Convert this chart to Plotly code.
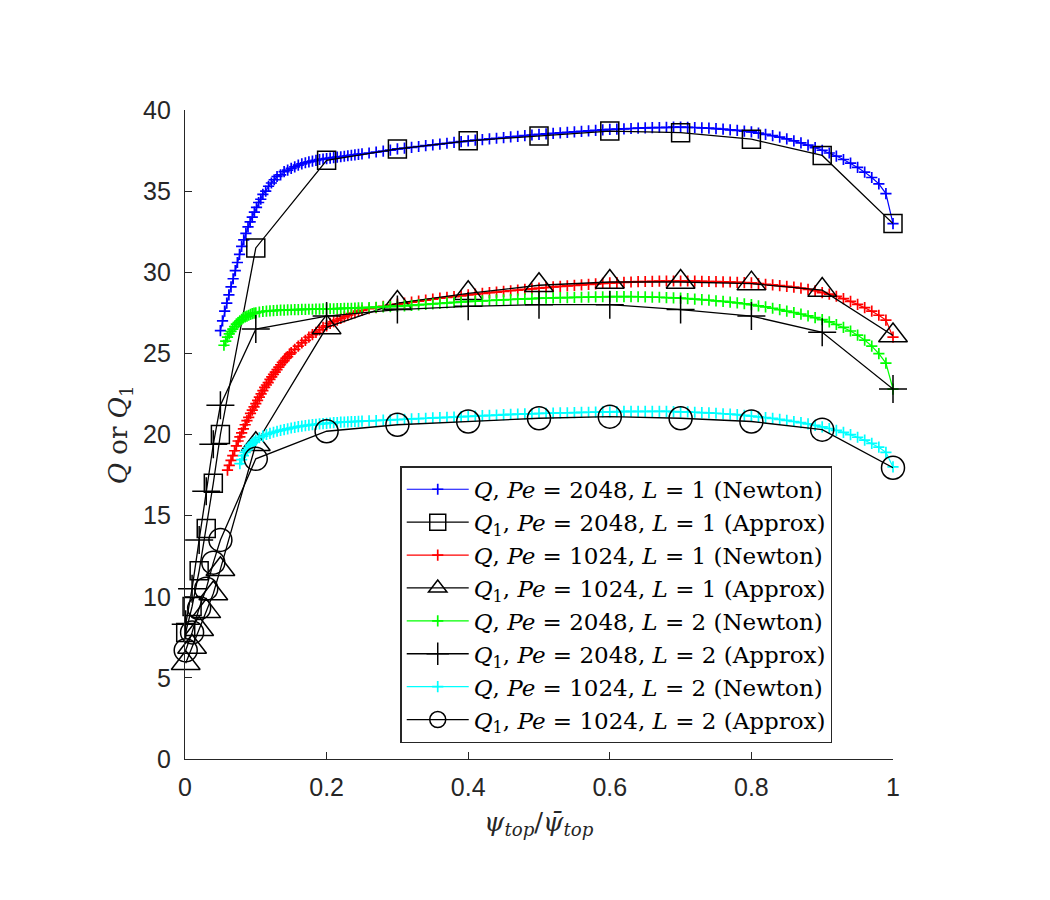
import plotly.graph_objects as go

# ---------------- data ----------------
# shared uniform grid used by the right-hand part of the Newton curves
x_grid = [0.26, 0.27, 0.28, 0.29, 0.30, 0.31, 0.32, 0.33, 0.34, 0.35,
          0.36, 0.37, 0.38, 0.39, 0.40, 0.41, 0.42, 0.43, 0.44, 0.45,
          0.46, 0.47, 0.48, 0.49, 0.50, 0.51, 0.52, 0.53, 0.54, 0.55,
          0.56, 0.57, 0.58, 0.59, 0.60, 0.61, 0.62, 0.63, 0.64, 0.65,
          0.66, 0.67, 0.68, 0.69, 0.70, 0.71, 0.72, 0.73, 0.74, 0.75,
          0.76, 0.77, 0.78, 0.79, 0.80, 0.81, 0.82, 0.83, 0.84, 0.85,
          0.86, 0.87, 0.88, 0.89, 0.90, 0.91, 0.92, 0.93, 0.94, 0.95,
          0.96, 0.97, 0.98, 0.99, 1.00]

# Q, Pe=2048, L=1 (Newton) -- blue
blue_x_left = [0.050, 0.053, 0.056, 0.059, 0.062, 0.065, 0.068, 0.071, 0.074, 0.077,
               0.080, 0.083, 0.086, 0.089, 0.092, 0.095, 0.098, 0.101, 0.104, 0.107,
               0.110, 0.114, 0.118, 0.122, 0.126, 0.130, 0.135, 0.140, 0.145, 0.150,
               0.155, 0.160, 0.165, 0.170, 0.175, 0.180, 0.185, 0.190, 0.195, 0.200,
               0.205, 0.210, 0.215, 0.220, 0.225, 0.230, 0.235, 0.240, 0.245, 0.250]
blue_y_left = [26.4, 27.0, 27.6, 28.1, 28.6, 29.1, 29.6, 30.1, 30.6, 31.1,
               31.6, 32.0, 32.4, 32.8, 33.1, 33.4, 33.7, 34.0, 34.3, 34.5,
               34.8, 35.0, 35.3, 35.5, 35.7, 35.9, 36.0, 36.2, 36.3, 36.4,
               36.5, 36.6, 36.68, 36.75, 36.8, 36.85, 36.9, 36.95, 36.98, 37.0,
               37.03, 37.06, 37.09, 37.12, 37.15, 37.18, 37.21, 37.24, 37.27, 37.3]
blue_y_grid = [37.35, 37.41, 37.47, 37.53, 37.60, 37.65, 37.70, 37.75, 37.80, 37.85,
               37.90, 37.95, 38.00, 38.05, 38.10, 38.14, 38.18, 38.22, 38.26, 38.30,
               38.34, 38.38, 38.42, 38.46, 38.50, 38.53, 38.56, 38.59, 38.62, 38.65,
               38.68, 38.71, 38.74, 38.77, 38.80, 38.82, 38.84, 38.86, 38.88, 38.90,
               38.91, 38.92, 38.93, 38.94, 38.94, 38.93, 38.92, 38.90, 38.88, 38.85,
               38.82, 38.78, 38.74, 38.70, 38.65, 38.58, 38.50, 38.42, 38.33, 38.22,
               38.10, 37.97, 37.83, 37.68, 37.52, 37.35, 37.16, 36.95, 36.72, 36.46,
               36.17, 35.84, 35.45, 34.85, 33.0]

# Q, Pe=1024, L=1 (Newton) -- red
red_x_left = [0.0600, 0.0625, 0.0650, 0.0675, 0.0700, 0.0725, 0.0750, 0.0775, 0.0800, 0.0825,
              0.0850, 0.0875, 0.0900, 0.0925, 0.0950, 0.0975, 0.1000, 0.1025, 0.1050, 0.1075,
              0.1100, 0.1125, 0.1150, 0.1175, 0.1200, 0.1225, 0.1250, 0.1275, 0.1300, 0.1325,
              0.1350, 0.1375, 0.1400, 0.1425, 0.1450, 0.1475, 0.1500, 0.155, 0.160, 0.165,
              0.170, 0.175, 0.180, 0.185, 0.190, 0.195, 0.200, 0.205, 0.210, 0.215,
              0.220, 0.225, 0.230, 0.235, 0.240, 0.245, 0.250]
red_y_left = [17.8, 18.1, 18.4, 18.7, 19.0, 19.3, 19.6, 19.85, 20.1, 20.35,
              20.6, 20.85, 21.05, 21.3, 21.5, 21.7, 21.9, 22.1, 22.3, 22.5,
              22.7, 22.9, 23.05, 23.2, 23.4, 23.55, 23.7, 23.85, 24.0, 24.15,
              24.3, 24.45, 24.55, 24.7, 24.8, 24.95, 25.05, 25.25, 25.45, 25.65,
              25.8, 26.0, 26.15, 26.3, 26.45, 26.6, 26.7, 26.85, 26.95, 27.05,
              27.15, 27.25, 27.35, 27.45, 27.5, 27.6, 27.65]
red_y_grid = [27.75, 27.82, 27.90, 27.97, 28.04, 28.10, 28.16, 28.22, 28.28, 28.34,
              28.40, 28.45, 28.50, 28.55, 28.60, 28.65, 28.70, 28.74, 28.78, 28.82,
              28.86, 28.90, 28.94, 28.98, 29.02, 29.06, 29.10, 29.13, 29.16, 29.19,
              29.22, 29.25, 29.28, 29.31, 29.34, 29.36, 29.38, 29.40, 29.42, 29.43,
              29.44, 29.45, 29.46, 29.46, 29.46, 29.46, 29.45, 29.44, 29.43, 29.42,
              29.41, 29.40, 29.38, 29.36, 29.34, 29.30, 29.26, 29.22, 29.18, 29.13,
              29.08, 29.02, 28.95, 28.86, 28.75, 28.65, 28.52, 28.38, 28.20, 28.02,
              27.82, 27.60, 27.35, 27.05, 26.0]

# Q, Pe=2048, L=2 (Newton) -- green
green_x_left = [0.0550, 0.0575, 0.0600, 0.0625, 0.0650, 0.0675, 0.0700, 0.0725, 0.0750, 0.0775,
                0.0800, 0.0825, 0.0850, 0.0875, 0.0900, 0.0925, 0.0950, 0.0975, 0.100, 0.105,
                0.110, 0.115, 0.120, 0.125, 0.130, 0.135, 0.140, 0.145, 0.150, 0.155,
                0.160, 0.165, 0.170, 0.175, 0.180, 0.185, 0.190, 0.195, 0.200, 0.205,
                0.210, 0.215, 0.220, 0.225, 0.230, 0.235, 0.240, 0.245, 0.250]
green_y_left = [25.5, 25.75, 26.0, 26.2, 26.35, 26.5, 26.65, 26.8, 26.9, 27.0,
                27.1, 27.2, 27.25, 27.3, 27.35, 27.4, 27.45, 27.48, 27.5, 27.55,
                27.58, 27.6, 27.62, 27.64, 27.65, 27.66, 27.67, 27.68, 27.69, 27.7,
                27.7, 27.71, 27.71, 27.72, 27.72, 27.73, 27.73, 27.74, 27.74, 27.75,
                27.75, 27.76, 27.76, 27.77, 27.78, 27.78, 27.79, 27.8, 27.8]
green_y_grid = [27.82, 27.84, 27.86, 27.88, 27.90, 27.93, 27.96, 27.99, 28.02, 28.05,
                28.08, 28.11, 28.14, 28.17, 28.20, 28.22, 28.24, 28.26, 28.28, 28.30,
                28.32, 28.34, 28.36, 28.38, 28.40, 28.41, 28.42, 28.43, 28.44, 28.45,
                28.46, 28.47, 28.48, 28.49, 28.50, 28.50, 28.50, 28.50, 28.49, 28.48,
                28.47, 28.46, 28.44, 28.42, 28.40, 28.37, 28.34, 28.31, 28.28, 28.24,
                28.20, 28.16, 28.11, 28.06, 28.00, 27.93, 27.86, 27.78, 27.70, 27.61,
                27.52, 27.42, 27.31, 27.20, 27.08, 26.94, 26.78, 26.60, 26.38, 26.12,
                25.82, 25.45, 24.98, 24.40, 22.8]

# Q, Pe=1024, L=2 (Newton) -- cyan
cyan_x_left = [0.0775, 0.0800, 0.0825, 0.0850, 0.0875, 0.0900, 0.0925, 0.0950, 0.0975, 0.100,
               0.105, 0.110, 0.115, 0.120, 0.125, 0.130, 0.135, 0.140, 0.145, 0.150,
               0.155, 0.160, 0.165, 0.170, 0.175, 0.180, 0.185, 0.190, 0.195, 0.200,
               0.205, 0.210, 0.215, 0.220, 0.225, 0.230, 0.235, 0.240, 0.245, 0.250]
cyan_y_left = [18.2, 18.45, 18.7, 18.9, 19.05, 19.2, 19.35, 19.45, 19.55, 19.65,
               19.8, 19.9, 20.0, 20.07, 20.14, 20.2, 20.25, 20.3, 20.35, 20.4,
               20.44, 20.48, 20.52, 20.55, 20.58, 20.61, 20.63, 20.65, 20.67, 20.69,
               20.71, 20.73, 20.74, 20.76, 20.77, 20.78, 20.79, 20.8, 20.81, 20.82]
cyan_y_grid = [20.84, 20.86, 20.88, 20.90, 20.92, 20.94, 20.96, 20.98, 21.00, 21.02,
               21.04, 21.06, 21.08, 21.10, 21.12, 21.14, 21.16, 21.18, 21.20, 21.22,
               21.24, 21.26, 21.27, 21.28, 21.30, 21.31, 21.32, 21.33, 21.34, 21.35,
               21.36, 21.37, 21.38, 21.39, 21.40, 21.41, 21.42, 21.42, 21.43, 21.43,
               21.43, 21.43, 21.42, 21.41, 21.40, 21.39, 21.37, 21.35, 21.33, 21.31,
               21.28, 21.25, 21.22, 21.18, 21.14, 21.09, 21.04, 20.99, 20.93, 20.87,
               20.80, 20.73, 20.65, 20.56, 20.47, 20.37, 20.26, 20.13, 19.99, 19.83,
               19.65, 19.45, 19.22, 18.90, 18.0]

# Approximations Q1 (black markers)
approx_x = [0.001, 0.01, 0.02, 0.03, 0.04, 0.05, 0.1, 0.2, 0.3, 0.4, 0.5, 0.6, 0.7, 0.8, 0.9, 1.0]
sq_y = [7.8, 9.4, 11.6, 14.2, 17.0, 20.0, 31.5, 36.9, 37.6, 38.1, 38.4, 38.7, 38.6, 38.2, 37.2, 33.0]
tri_y = [5.9, 6.9, 8.0, 9.1, 10.2, 11.7, 19.4, 26.6, 28.1, 28.7, 29.2, 29.4, 29.4, 29.3, 28.9, 26.1]
plus_y = [8.3, 10.5, 13.5, 16.5, 19.4, 21.8, 26.5, 27.3, 27.7, 27.9, 28.0, 28.0, 27.7, 27.3, 26.3, 22.8]
circ_y = [6.7, 7.8, 9.3, 10.5, 12.1, 13.5, 18.5, 20.2, 20.6, 20.8, 21.0, 21.1, 21.0, 20.8, 20.3, 17.95]

x_ticks = [0, 0.2, 0.4, 0.6, 0.8, 1]
x_tick_text = ["0", "0.2", "0.4", "0.6", "0.8", "1"]
y_ticks = [0, 5, 10, 15, 20, 25, 30, 35, 40]
y_tick_text = ["0", "5", "10", "15", "20", "25", "30", "35", "40"]

legend_names = [
    "<i>Q</i>, <i>Pe</i> = 2048, <i>L</i> = 1 (Newton)",
    "<i>Q</i><sub>1</sub>, <i>Pe</i> = 2048, <i>L</i> = 1 (Approx)",
    "<i>Q</i>, <i>Pe</i> = 1024, <i>L</i> = 1 (Newton)",
    "<i>Q</i><sub>1</sub>, <i>Pe</i> = 1024, <i>L</i> = 1 (Approx)",
    "<i>Q</i>, <i>Pe</i> = 2048, <i>L</i> = 2 (Newton)",
    "<i>Q</i><sub>1</sub>, <i>Pe</i> = 2048, <i>L</i> = 2 (Approx)",
    "<i>Q</i>, <i>Pe</i> = 1024, <i>L</i> = 2 (Newton)",
    "<i>Q</i><sub>1</sub>, <i>Pe</i> = 1024, <i>L</i> = 2 (Approx)",
]

# ---------------- figure ----------------
fig = go.Figure()


def newton(xl, yl, yg, color, name):
    fig.add_trace(go.Scatter(
        x=xl + x_grid, y=yl + yg, mode="lines+markers", name=name,
        line=dict(color=color, width=1.2), cliponaxis=False,
        marker=dict(symbol="cross-thin", size=8, color=color,
                    line=dict(color=color, width=1.7)),
    ))


def approx(y, symbol, size, name):
    fig.add_trace(go.Scatter(
        x=approx_x, y=y, mode="lines+markers", name=name,
        line=dict(color="black", width=1.3), cliponaxis=False,
        marker=dict(symbol=symbol, size=size, color="black",
                    line=dict(color="black", width=1.5)),
    ))


newton(blue_x_left, blue_y_left, blue_y_grid, "#0000FF", legend_names[0])
approx(sq_y, "square-open", 18, legend_names[1])
newton(red_x_left, red_y_left, red_y_grid, "#FF0000", legend_names[2])
approx(tri_y, "triangle-up-open", 25, legend_names[3])
newton(green_x_left, green_y_left, green_y_grid, "#00FF00", legend_names[4])
approx(plus_y, "cross-thin", 20, legend_names[5])
newton(cyan_x_left, cyan_y_left, cyan_y_grid, "#00FFFF", legend_names[6])
approx(circ_y, "circle-open", 23, legend_names[7])

axis_color = "#262626"
fig.update_xaxes(
    range=[0, 1], tickvals=x_ticks, ticktext=x_tick_text,
    ticks="inside", ticklen=7, tickwidth=1.2, tickcolor=axis_color,
    showline=True, linecolor=axis_color, linewidth=1.3,
    showgrid=False, zeroline=False, mirror=False,
    tickfont=dict(family="Liberation Sans, Arial, sans-serif", size=25, color=axis_color),
    ticklabelstandoff=6,
)
fig.update_yaxes(
    range=[0, 40], tickvals=y_ticks, ticktext=y_tick_text,
    ticks="inside", ticklen=7, tickwidth=1.2, tickcolor=axis_color,
    showline=True, linecolor=axis_color, linewidth=1.3,
    showgrid=False, zeroline=False, mirror=False,
    tickfont=dict(family="Liberation Sans, Arial, sans-serif", size=25, color=axis_color),
    ticklabelstandoff=8,
)

fig.add_annotation(
    text="<i>ψ</i><sub><i>top</i></sub>/<i>ψ̄</i><sub><i>top</i></sub>",
    xref="paper", yref="paper", x=0.5, y=-0.099, xanchor="center", yanchor="middle",
    showarrow=False, font=dict(family="DejaVu Serif, serif", size=26, color=axis_color),
)
fig.add_annotation(
    text="<i>Q</i> or <i>Q</i><sub>1</sub>",
    xref="paper", yref="paper", x=-0.092, y=0.5, xanchor="center", yanchor="middle",
    textangle=-90, showarrow=False,
    font=dict(family="DejaVu Serif, serif", size=26, color=axis_color),
)

fig.update_layout(
    width=1050, height=900,
    margin=dict(l=185, r=157, t=110, b=141),
    paper_bgcolor="white", plot_bgcolor="white",
    showlegend=True,
    legend=dict(
        x=0.304, y=0.451, xanchor="left", yanchor="top",
        bgcolor="white", bordercolor=axis_color, borderwidth=1.5,
        font=dict(family="DejaVu Serif, serif", size=23, color="black"),
        itemwidth=62, tracegroupgap=0,
    ),
)

fig.write_html("out.html")
